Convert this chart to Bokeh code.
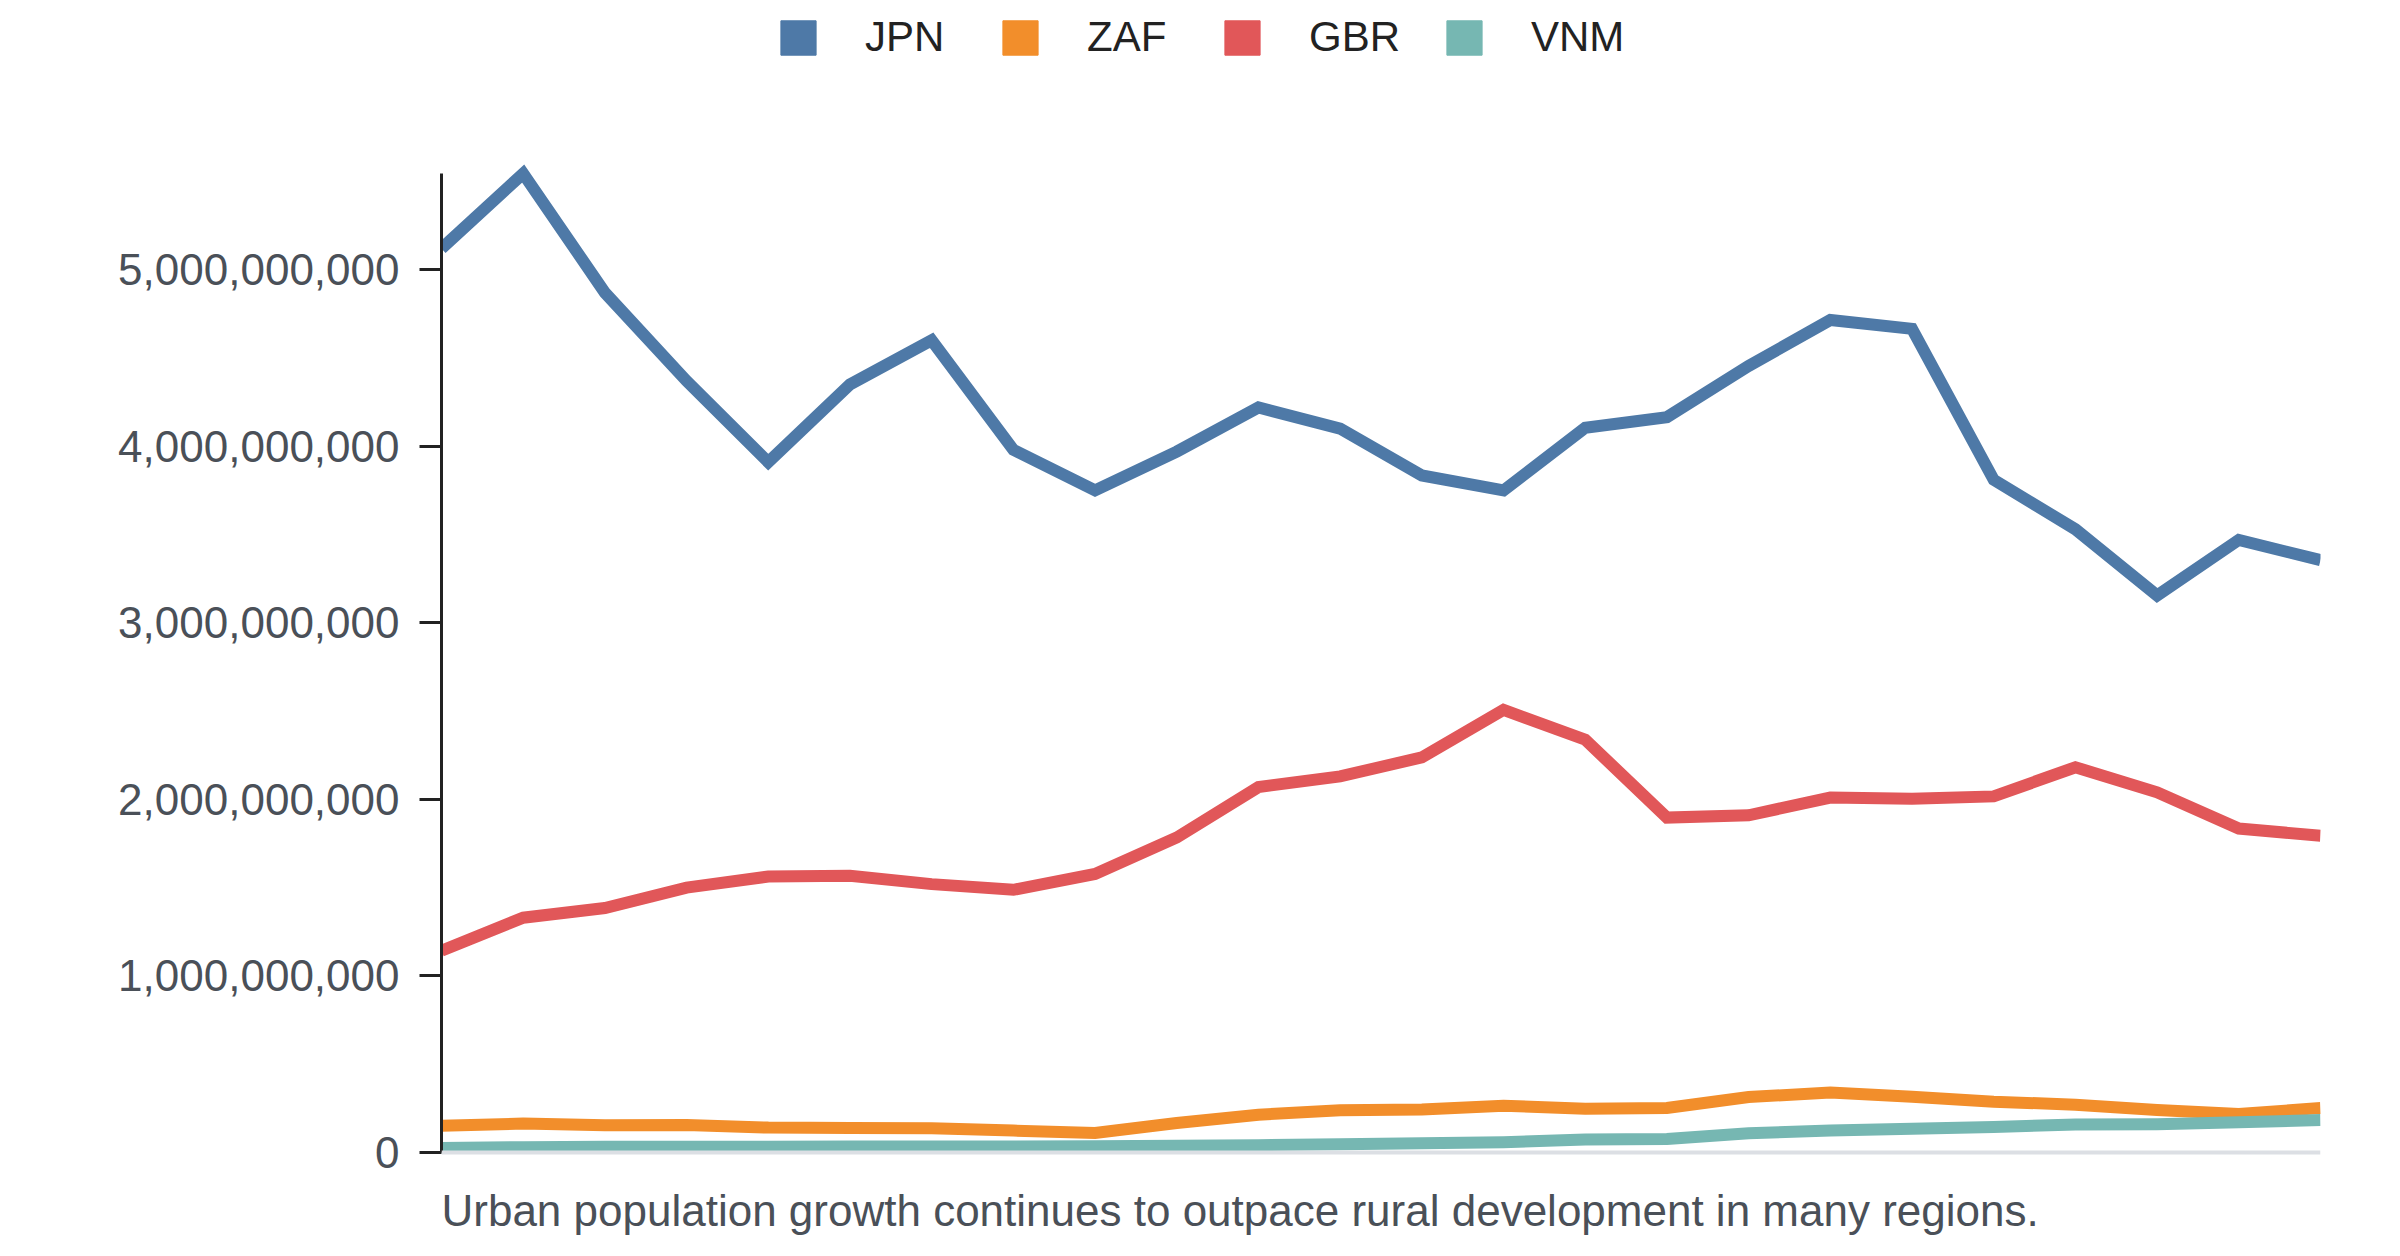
from bokeh.plotting import figure
from bokeh.models import Range1d, Legend, LegendItem, Label, Span, FixedTicker, NumeralTickFormatter
from bokeh.embed import file_html
from bokeh.resources import INLINE

years = [2000, 2001, 2002, 2003, 2004, 2005, 2006, 2007, 2008, 2009, 2010, 2011,
         2012, 2013, 2014, 2015, 2016, 2017, 2018, 2019, 2020, 2021, 2022, 2023]

series_names = ["JPN", "ZAF", "GBR", "VNM"]
series_colors = ["#4e79a7", "#f28e2b", "#e15759", "#76b7b2"]

jpn = [5.120e9, 5.545e9, 4.870e9, 4.370e9, 3.910e9, 4.350e9, 4.600e9, 3.980e9,
       3.750e9, 3.970e9, 4.220e9, 4.100e9, 3.835e9, 3.750e9, 4.105e9, 4.165e9,
       4.455e9, 4.715e9, 4.665e9, 3.810e9, 3.530e9, 3.155e9, 3.470e9, 3.355e9]
zaf = [0.152e9, 0.164e9, 0.154e9, 0.156e9, 0.141e9, 0.139e9, 0.137e9, 0.124e9,
       0.111e9, 0.167e9, 0.214e9, 0.239e9, 0.244e9, 0.265e9, 0.248e9, 0.252e9,
       0.314e9, 0.340e9, 0.316e9, 0.288e9, 0.271e9, 0.241e9, 0.218e9, 0.252e9]
gbr = [1.143e9, 1.330e9, 1.385e9, 1.500e9, 1.563e9, 1.567e9, 1.520e9, 1.488e9,
       1.578e9, 1.784e9, 2.070e9, 2.130e9, 2.238e9, 2.507e9, 2.338e9, 1.897e9,
       1.910e9, 2.010e9, 2.004e9, 2.017e9, 2.182e9, 2.040e9, 1.835e9, 1.794e9]
vnm = [0.026e9, 0.030e9, 0.032e9, 0.032e9, 0.033e9, 0.034e9, 0.034e9, 0.034e9,
       0.036e9, 0.038e9, 0.041e9, 0.047e9, 0.053e9, 0.058e9, 0.073e9, 0.077e9,
       0.109e9, 0.124e9, 0.135e9, 0.145e9, 0.158e9, 0.160e9, 0.171e9, 0.184e9]

y_ticks = [0, 1e9, 2e9, 3e9, 4e9, 5e9]
caption = "Urban population growth continues to outpace rural development in many regions."

all_series = [jpn, zaf, gbr, vnm]
ymax = max(max(s) for s in all_series)

FONT = "Liberation Sans"

# layout (pixels): figure canvas, plot area inside it
W, H = 2384, 1240
LEFT, RIGHT = 441, 64
PLOT_TOP, PLOT_BOTTOM = 173, 1152      # screen y of ymax and of 0
per_px = ymax / (PLOT_BOTTOM - PLOT_TOP)
y_start = -(H - PLOT_BOTTOM) * per_px
y_end = ymax + PLOT_TOP * per_px

p = figure(width=W, height=H, output_backend="svg", toolbar_location=None,
           x_range=Range1d(years[0], years[-1]), y_range=Range1d(y_start, y_end),
           min_border_left=LEFT, min_border_right=RIGHT, min_border_top=0,
           min_border_bottom=0)
p.outline_line_color = None
p.grid.visible = False
p.background_fill_color = "white"
p.border_fill_color = "white"
p.xaxis.visible = False

# lines
for data, color in zip(all_series, series_colors):
    p.line(years, data, line_color=color, line_width=12, line_join="miter")

# baseline at zero
p.add_layout(Span(location=0, dimension="width", line_color="#dcdfe4", line_width=4))

# y axis
yax = p.yaxis[0]
yax.bounds = (0, ymax)
yax.ticker = FixedTicker(ticks=y_ticks)
yax.formatter = NumeralTickFormatter(format="0,0")
yax.axis_line_color = "#222222"
yax.axis_line_width = 3
yax.major_tick_line_color = "#222222"
yax.major_tick_line_width = 3
yax.major_tick_out = 22
yax.major_tick_in = 0
yax.minor_tick_line_color = None
yax.major_label_standoff = 20
yax.major_label_text_font = FONT
yax.major_label_text_font_size = "44px"
yax.major_label_text_color = "#4a5058"

# legend with square swatches
nan = float("nan")
items = []
for name, color in zip(series_names, series_colors):
    r = p.rect(x=[nan], y=[nan], width=1, height=1, fill_color=color, line_color=color)
    items.append(LegendItem(label=name, renderers=[r]))

legend = Legend(items=items, orientation="horizontal", location=(335, 1179),
                glyph_width=44, glyph_height=43, label_standoff=45, label_width=113,
                spacing=20, padding=0, margin=0,
                border_line_color=None, background_fill_alpha=0,
                label_text_font=FONT, label_text_font_size="42px",
                label_text_color="#222222", label_text_baseline="middle")
p.add_layout(legend)

cap = Label(x=0, y=6, x_units="screen", y_units="screen", text=caption,
            text_font=FONT, text_font_size="44px", text_color="#4a5058",
            text_baseline="bottom", text_align="left")
p.add_layout(cap)

open("out.html", "w").write(file_html(p, INLINE))
